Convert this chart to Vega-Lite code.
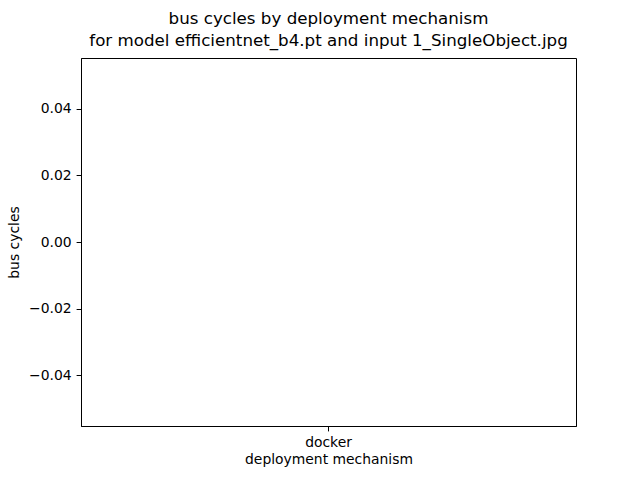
{
  "$schema": "https://vega.github.io/schema/vega-lite/v6.json",
  "autosize": {"type": "none"},
  "padding": {"left": 81, "top": 58, "right": 64, "bottom": 54},
  "width": 495,
  "height": 368,
  "background": "white",
  "title": {
    "text": ["bus cycles by deployment mechanism", "for model efficientnet_b4.pt and input 1_SingleObject.jpg"],
    "font": "DejaVu Sans",
    "fontSize": 16.7,
    "fontWeight": "normal",
    "color": "black",
    "anchor": "middle",
    "lineHeight": 22,
    "offset": 8
  },
  "data": {
    "values": [
      {"deployment": "docker", "bus_cycles": 0}
    ]
  },
  "mark": {"type": "bar", "color": "#1f77b4"},
  "encoding": {
    "x": {
      "field": "deployment",
      "type": "nominal",
      "title": "deployment mechanism",
      "scale": {"paddingInner": 0.2, "paddingOuter": 0.3},
      "axis": {"labelAngle": 0, "titlePadding": 3}
    },
    "y": {
      "field": "bus_cycles",
      "type": "quantitative",
      "title": "bus cycles",
      "scale": {"domain": [-0.0552, 0.0552], "nice": false, "zero": false},
      "axis": {"values": [-0.04, -0.02, 0, 0.02, 0.04], "format": ".2f", "titleX": -60}
    }
  },
  "config": {
    "view": {"stroke": "black", "strokeWidth": 1},
    "axis": {
      "grid": false,
      "domainColor": "black",
      "tickColor": "black",
      "tickSize": 4.9,
      "labelPadding": 4.9,
      "labelFont": "DejaVu Sans",
      "labelFontSize": 13.9,
      "labelColor": "black",
      "titleFont": "DejaVu Sans",
      "titleFontSize": 13.9,
      "titleFontWeight": "normal",
      "titleColor": "black"
    }
  }
}
